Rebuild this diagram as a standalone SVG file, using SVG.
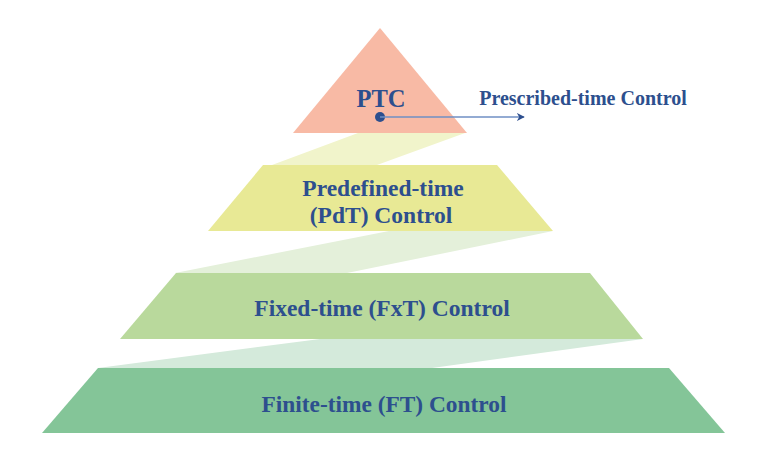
<svg xmlns="http://www.w3.org/2000/svg" width="776" height="462" viewBox="0 0 776 462">
<style>
text{font-family:"Liberation Serif","Times New Roman",serif;font-weight:bold;fill:#2D4F8E;text-anchor:middle}
.big{font-size:23.5px}
</style>
<defs>
<marker id="arr" viewBox="0 0 10 10" refX="9" refY="5" markerWidth="8" markerHeight="8" markerUnits="userSpaceOnUse" orient="auto">
<path d="M0,0 L10,5 L0,10 L3,5 Z" fill="#2D4F8E"/>
</marker>
</defs>
<rect width="776" height="462" fill="#fff"/>
<g id="ribbons">
<polygon points="358,133 465,133 377,165 272,165" fill="#F1F4CB"/>
<polygon points="389,231 553,231 347,273 175,273" fill="#E4F0DA"/>
<polygon points="320,339 643,339 432,368 98,368" fill="#D4EADB"/>
</g>
<g id="ptc">
<polygon points="380,28 467,133 293,133" fill="#F8BAA5"/>
<text x="381" y="107" style="font-size:24.5px">PTC</text>
</g>
<g id="pdt">
<polygon points="263,165 497,165 553,231 208,231" fill="#E8E995"/>
<text x="383" y="196" class="big">Predefined-time</text>
<text x="381" y="223" class="big">(PdT) Control</text>
</g>
<g id="fxt">
<polygon points="176,273 590,273 643,339 120,339" fill="#B9D99C"/>
<text x="382" y="316" class="big">Fixed-time (FxT) Control</text>
</g>
<g id="ft">
<polygon points="98,368 669,368 725,433 42,433" fill="#84C598"/>
<text x="384" y="412" class="big" textLength="245" lengthAdjust="spacingAndGlyphs">Finite-time (FT) Control</text>
</g>
<g id="connectors">
<circle cx="380" cy="117" r="5" fill="#2D4F8E"/>
<line x1="380" y1="117" x2="524" y2="117" stroke="#6F8FC4" stroke-width="1.3" marker-end="url(#arr)"/>
</g>
<g id="label">
<text x="583" y="105" style="font-size:20px">Prescribed-time Control</text>
</g>
</svg>
